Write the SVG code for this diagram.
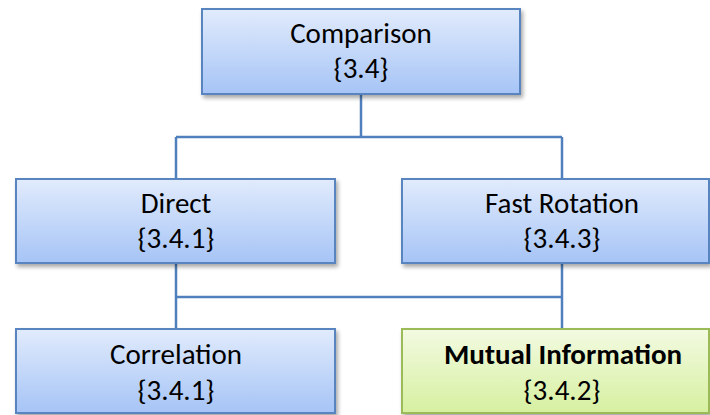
<svg xmlns="http://www.w3.org/2000/svg" width="710" height="415" viewBox="0 0 710 415">
<defs>
<linearGradient id="gBlue" x1="0" y1="0" x2="0" y2="1">
<stop offset="0" stop-color="#e1ebfc"/>
<stop offset="1" stop-color="#a6c4f6"/>
</linearGradient>
<linearGradient id="gGreen" x1="0" y1="0" x2="0" y2="1">
<stop offset="0" stop-color="#f3fae2"/>
<stop offset="1" stop-color="#d6f0a0"/>
</linearGradient>
<filter id="sh" x="-10%" y="-10%" width="125%" height="130%">
<feGaussianBlur in="SourceAlpha" stdDeviation="2"/>
<feOffset dx="2" dy="3" result="b"/>
<feComponentTransfer><feFuncA type="linear" slope="0.35"/></feComponentTransfer>
<feMerge><feMergeNode/><feMergeNode in="SourceGraphic"/></feMerge>
</filter>
</defs>
<style>
.box{fill:url(#gBlue);stroke:#5885c0;stroke-width:2;filter:url(#sh)}
.gbox{fill:url(#gGreen);stroke:#9bbb59;stroke-width:2;filter:url(#sh)}
.t{font-family:Carlito,Lato,"Open Sans",sans-serif;font-size:29px;fill:#000;text-anchor:middle}
.b{font-weight:bold}
.c{fill:none;stroke:#4f7fbd;stroke-width:2.5}
</style>
<g id="connectors">
<path class="c" d="M361 94 V137 M176 137 H562 M176 137 V179 M562 137 V179"/>
<path class="c" d="M176 263 V297 M562 263 V297 M176 297 H562 M176 297 V329 M562 297 V329"/>
</g>
<g id="comparison">
<rect class="box" x="202" y="9" width="318" height="85"/>
<text class="t" x="361" y="43">Comparison</text>
<text class="t" x="361" y="78">{3.4}</text>
</g>
<g id="direct">
<rect class="box" x="16" y="179" width="319" height="84"/>
<text class="t" x="176" y="213">Direct</text>
<text class="t" x="176" y="248">{3.4.1}</text>
</g>
<g id="fast-rotation">
<rect class="box" x="402" y="179" width="307" height="84"/>
<text class="t" x="562" y="213">Fast Rotation</text>
<text class="t" x="562" y="248">{3.4.3}</text>
</g>
<g id="correlation">
<rect class="box" x="16" y="329" width="319" height="84"/>
<text class="t" x="176" y="364">Correlation</text>
<text class="t" x="176" y="400">{3.4.1}</text>
</g>
<g id="mutual-information">
<rect class="gbox" x="402" y="329" width="307" height="84"/>
<text class="t b" x="563" y="364">Mutual Information</text>
<text class="t" x="562" y="400">{3.4.2}</text>
</g>
</svg>
